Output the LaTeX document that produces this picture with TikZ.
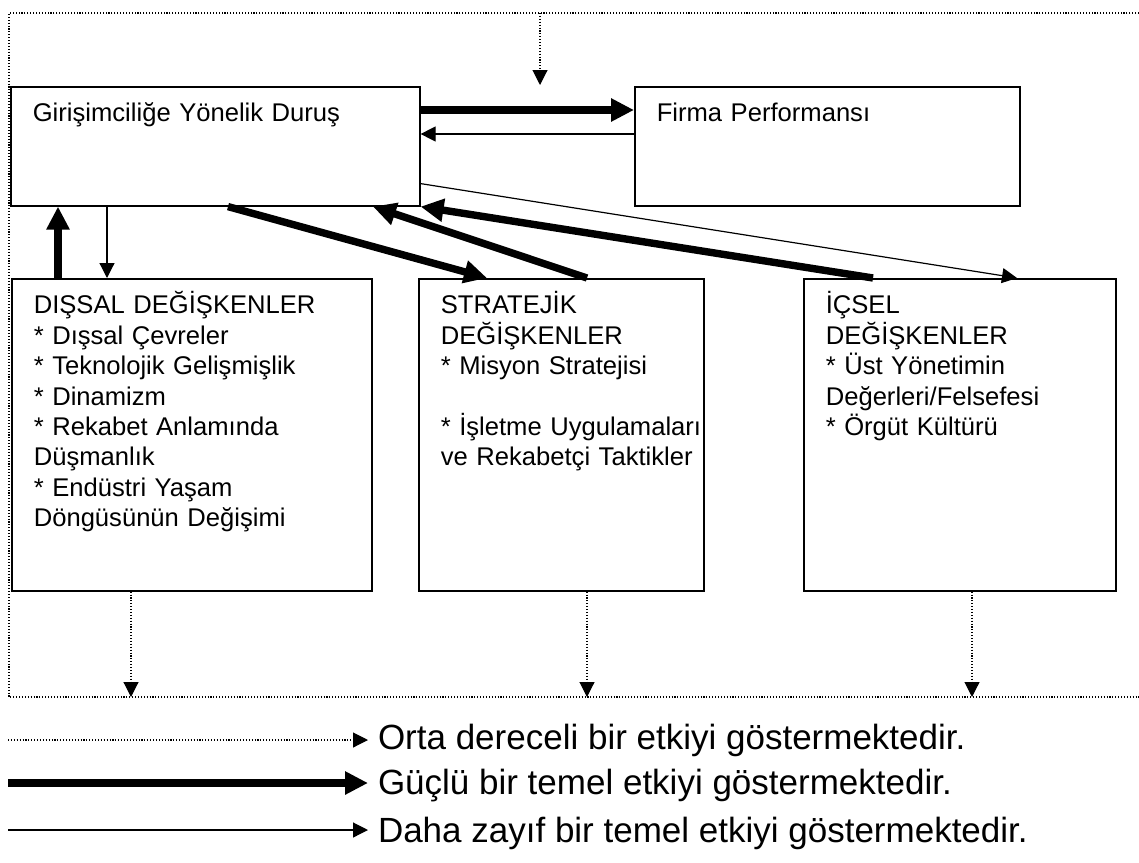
\documentclass[tikz,border=0pt]{standalone}
\usepackage{fontspec}
\setmainfont{Liberation Sans}
\usetikzlibrary{arrows.meta,positioning,calc}

\tikzset{
  box/.style={draw, line width=0.8pt, rectangle, anchor=north west, align=left,
    inner ysep=0pt, inner xsep=0pt, text height=17.5pt,
    font=\fontsize{12.8}{15.2}\selectfont,
    execute at begin node={\leftskip=11pt\relax\lineskiplimit=-5pt\relax}},
  strong/.style={line width=3.7pt, -{Triangle[length=11.5pt,width=11pt]}},
  weak/.style={line width=0.6pt, -{Triangle[length=7.5pt,width=7.5pt]}},
  moderate/.style={line width=0.55pt, dash pattern=on 0.55pt off 0.9pt,
    -{Triangle[length=7.5pt,width=7.5pt]}},
  frame/.style={line width=0.55pt, dash pattern=on 0.55pt off 0.9pt},
  legendtext/.style={anchor=west, inner xsep=5pt, inner ysep=0pt, outer sep=0pt,
    font=\fontsize{17.5}{20}\selectfont}
}

\begin{document}
\begin{tikzpicture}[x=0.5pt,y=-0.5pt]
\useasboundingbox (0,0) rectangle (1139,862);

% Dotted frame
\coordinate (ftr) at (1139,13);
\coordinate (ftl) at (9,13);
\coordinate (fbl) at (9,697);
\coordinate (fbr) at (1139,697);
\draw[frame] (ftr) -- (ftl) -- (fbl) -- (fbr);

% Boxes
\node[box, text width=204.5pt, text depth=42pt]
  (duru) at (10,86) {Girişimciliğe Yönelik Duruş};
\node[box, text width=192.5pt, text depth=42pt]
  (perf) at (634,86) {Firma Performansı};
\node[box, text width=180pt, text depth=138.5pt] (dis) at (11,278)
  {DIŞSAL DEĞİŞKENLER\\
   {*} Dışsal Çevreler\\
   {*} Teknolojik Gelişmişlik\\
   {*} Dinamizm\\
   {*} Rekabet Anlamında\\
   Düşmanlık\\
   {*} Endüstri Yaşam\\
   Döngüsünün Değişimi};
\node[box, text width=142.5pt, text depth=138.5pt] (strat) at (418,278)
  {STRATEJİK\\
   DEĞİŞKENLER\\
   {*} Misyon Stratejisi\\[15.2pt]
   {*} İşletme Uygulamaları\\
   ve Rekabetçi Taktikler};
\node[box, text width=156pt, text depth=138.5pt] (icsel) at (803,278)
  {İÇSEL\\
   DEĞİŞKENLER\\
   {*} Üst Yönetimin\\
   Değerleri/Felsefesi\\
   {*} Örgüt Kültürü};

% Top dotted arrow
\coordinate (top) at (540,85);
\draw[moderate] (top |- ftl) -- (top);

% Between the top boxes
\draw[strong] ([yshift=-12pt]duru.north east) -- ([yshift=-12pt]perf.north west);
\draw[weak] ([yshift=-24pt]perf.north west) -- ([yshift=-24pt]duru.north east);

% From and to the lower boxes
\coordinate (d0) at ([xshift=23.5pt]dis.north west);
\coordinate (d1) at ([xshift=48pt]dis.north west);
\draw[strong] (d0) -- (d0 |- duru.south);
\draw[weak] (d1 |- duru.south) -- (d1);
\draw[strong] ([xshift=109pt]duru.south west) -- ([xshift=34.5pt]strat.north west);
\draw[strong] ([xshift=84.5pt]strat.north west) -- ([xshift=181.5pt]duru.south west);
\draw[strong] ([xshift=35pt]icsel.north west) -- (duru.south east);
\draw[weak] ([yshift=11.5pt]duru.south east) -- ([xshift=107pt]icsel.north west);

% Bottom dotted arrows
\coordinate (b1) at ([xshift=60pt]dis.south west);
\coordinate (b2) at ([xshift=84.5pt]strat.south west);
\coordinate (b3) at ([xshift=84.5pt]icsel.south west);
\draw[moderate] (b1) -- (b1 |- fbl);
\draw[moderate] (b2) -- (b2 |- fbl);
\draw[moderate] (b3) -- (b3 |- fbl);

% Legend
\node[legendtext] (t1) at (368,740) {Orta dereceli bir etkiyi göstermektedir.};
\node[legendtext] (t2) at (368,786) {Güçlü bir temel etkiyi göstermektedir.};
\node[legendtext] (t3) at (368,833) {Daha zayıf bir temel etkiyi göstermektedir.};
\coordinate (l1) at (8,740);
\coordinate (l2) at (8,783);
\coordinate (l3) at (8,830);
\draw[moderate] (l1) -- (t1.west);
\draw[strong] (l2) -- (l2 -| t2.west);
\draw[weak] (l3) -- (l3 -| t3.west);
\end{tikzpicture}
\end{document}
